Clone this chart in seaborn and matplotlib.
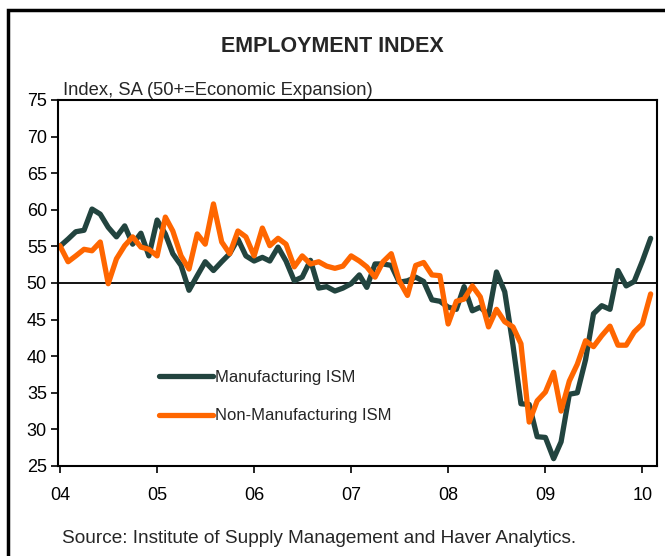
import numpy as np
import pandas as pd
import seaborn as sns
import matplotlib.pyplot as plt
import matplotlib.dates as mdates
from matplotlib.patches import Rectangle

# monthly readings, Jan 2004 .. Feb 2010
months = pd.date_range("2004-01-01", periods=74, freq="MS")

manufacturing = [
    55.0, 56.0, 57.0, 57.2, 60.1, 59.4, 57.6, 56.3, 57.8, 55.3, 56.8, 53.7,
    58.6, 56.7, 54.0, 52.4, 49.0, 51.0, 52.9, 51.7, 52.9, 54.0, 56.0, 53.7,
    53.0, 53.5, 53.0, 54.9, 53.0, 50.3, 50.8, 53.1, 49.3, 49.5, 48.9, 49.3,
    49.9, 51.1, 49.4, 52.6, 52.6, 52.4, 50.1, 50.3, 50.8, 50.2, 47.7, 47.5,
    46.7, 46.4, 49.5, 46.2, 46.7, 45.6, 51.5, 48.8, 41.5, 33.5, 33.4, 29.0,
    28.9, 26.0, 28.3, 34.8, 35.0, 39.5, 45.8, 46.9, 46.4, 51.7, 49.6, 50.2,
    53.0, 56.1,
]

non_manufacturing = [
    55.1, 52.9, 53.7, 54.6, 54.4, 55.6, 49.9, 53.3, 55.1, 56.3, 54.9, 54.6,
    53.7, 59.0, 57.1, 53.7, 51.9, 56.7, 55.3, 60.8, 55.6, 54.0, 57.1, 56.3,
    53.7, 57.5, 55.1, 56.1, 55.3, 52.2, 53.7, 52.6, 52.9, 52.3, 52.0, 52.3,
    53.7, 53.0, 52.2, 50.8, 52.9, 54.0, 50.3, 48.3, 52.4, 52.8, 51.1, 51.0,
    44.4, 47.5, 47.8, 49.6, 48.1, 44.0, 46.4, 44.7, 44.0, 41.7, 31.0, 33.9,
    35.1, 37.8, 32.5, 36.6, 38.9, 42.1, 41.3, 42.8, 44.1, 41.5, 41.5, 43.3,
    44.4, 48.5,
]

series_names = ["Manufacturing ISM", "Non-Manufacturing ISM"]
series_colors = ["#22443F", "#FF6600"]
year_ticks = pd.date_range("2004-01-01", "2010-01-01", freq="YS")
y_ticks = [25, 30, 35, 40, 45, 50, 55, 60, 65, 70, 75]

sns.set_style("white")
plt.rcParams["font.family"] = ["Liberation Sans", "DejaVu Sans"]

fig = plt.figure(figsize=(6.65, 5.56), dpi=100)
ax = fig.add_axes([0.0872, 0.1619, 0.9008, 0.6583])

for vals, name, col in zip([manufacturing, non_manufacturing], series_names, series_colors):
    sns.lineplot(x=months, y=vals, ax=ax, color=col, linewidth=3.8, label=name)

ax.axhline(50, color="black", linewidth=1.3, zorder=1)

ax.set_ylim(25, 75)
ax.set_yticks(y_ticks)
ax.set_xlim(pd.Timestamp("2003-12-25"), pd.Timestamp("2010-02-25"))
ax.set_xticks(year_ticks)
ax.xaxis.set_major_formatter(mdates.DateFormatter("%y"))
ax.set_xlabel("")
ax.set_ylabel("")
ax.tick_params(direction="out", length=5, width=1.2, labelsize=13, colors="black",
               left=True, bottom=True)
ax.tick_params(axis="x", pad=10)
ax.tick_params(axis="y", pad=3)
for s in ax.spines.values():
    s.set_color("black")
    s.set_linewidth(1.5)

ax.legend(loc="upper left", bbox_to_anchor=(0.158, 0.28), frameon=False,
          fontsize=12, handlelength=3.2, handletextpad=0.12, labelspacing=1.4,
          borderaxespad=0)

fig.text(0.5, 0.917, "EMPLOYMENT INDEX", ha="center", va="center",
         fontsize=15.5, fontweight="bold")
fig.text(0.094, 0.838, "Index, SA (50+=Economic Expansion)", ha="left", va="center",
         fontsize=13.2)
fig.text(0.093, 0.032, "Source: Institute of Supply Management and Haver Analytics.",
         ha="left", va="center", fontsize=13.7)

fig.patches.append(Rectangle((0.012, -0.1), 1.2, 1.1 - 10 / 556, transform=fig.transFigure,
                             fill=False, edgecolor="black", linewidth=2.5, clip_on=False))

fig.savefig("out.png", dpi=100)
